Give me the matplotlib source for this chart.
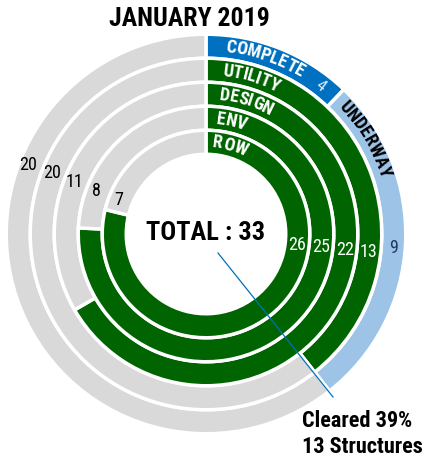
import matplotlib
matplotlib.use('Agg')
import matplotlib.pyplot as plt
import numpy as np
from matplotlib.font_manager import FontProperties

# ==========================
# Data
# ==========================
total = 33
status_labels = ['COMPLETE', 'UNDERWAY']
status_values = [4, 9, 20]            # complete, underway, remaining
ring_labels = ['UTILITY', 'DESIGN', 'ENV', 'ROW']
ring_done = [13, 22, 25, 26]
ring_left = [20, 11, 8, 7]
cleared_pct = 39
cleared_n = 13

FONT = 'Roboto Condensed'
GREEN = '#006400'
GRAY = '#D9D9D9'
BLUE = '#0070C0'
LBLUE = '#9DC3E6'

# figure in pixel units: 1 data unit = 1 px
fig = plt.figure(figsize=(4.29, 4.60), dpi=100)
ax = fig.add_axes([0, 0, 1, 1])
cx, cy = 206, 460 - 235
band = 24
radii = [199.75, 175.75, 151.75, 127.75, 103.75]
wp = dict(width=band, edgecolor='white', linewidth=2.5)

# outer ring: status
ax.pie(status_values, radius=radii[0], center=(cx, cy), startangle=90,
       counterclock=False, colors=[BLUE, LBLUE, GRAY], wedgeprops=wp)
# inner rings: green done / gray left
for i in range(len(ring_labels)):
    ax.pie([ring_done[i], ring_left[i]], radius=radii[i + 1], center=(cx, cy),
           startangle=90, counterclock=False, colors=[GREEN, GRAY], wedgeprops=wp)

ax.set_xlim(0, 429)
ax.set_ylim(0, 460)
ax.set_aspect('equal')
ax.axis('off')

renderer = fig.canvas.get_renderer()


def polar(r, theta):
    # theta in degrees clockwise from 12 o'clock
    t = np.radians(theta)
    return cx + r * np.sin(t), cy + r * np.cos(t)


def arc_text(s, r, theta0, size, color, weight='bold'):
    fp = FontProperties(family=FONT, size=size, weight=weight)
    def w(t):
        if not t:
            return 0.0
        return renderer.get_text_width_height_descent(t, fp, ismath=False)[0]
    first = w(s[0]) / 2
    for i, ch in enumerate(s):
        mid = (w(s[:i]) + w(s[:i + 1])) / 2 - first
        theta = theta0 + np.degrees(mid * 1.02 / r)
        x, y = polar(r, theta)
        ax.text(x, y, ch, fontproperties=fp, color=color, rotation=-theta,
                rotation_mode='anchor', ha='center', va='center')


mids = [r - band / 2 for r in radii]

# curved ring labels
arc_text(status_labels[0], mids[0] + 1, 7.5, 13, 'white')
arc_text(status_labels[1], mids[0] + 1, 47.5, 13, 'black')
for i, lab in enumerate(ring_labels):
    arc_text(lab, mids[i + 1] + 1, 7.5, 13, 'white')

# value labels
x, y = polar(mids[0], 37.5)
ax.text(x, y, str(status_values[0]), rotation=-37.5, rotation_mode='anchor',
        ha='center', va='center', fontsize=12, family=FONT, color='#DDEBF7')
x, y = polar(mids[0], 94)
ax.text(x, y, str(status_values[1]), ha='center', va='center', fontsize=13,
        family=FONT, color='#1F3864')
x, y = polar(mids[0] + 4, 291.5)
ax.text(x, y, str(status_values[2]), ha='center', va='center', fontsize=13,
        family=FONT, color='black')
for i in range(len(ring_labels)):
    x, y = polar(mids[i + 1], 96)
    ax.text(x, y, str(ring_done[i]), ha='center', va='center', fontsize=13,
            family=FONT, color='white')
    x, y = polar(mids[i + 1] + 2, 292)
    ax.text(x, y, str(ring_left[i]), ha='center', va='center', fontsize=13,
            family=FONT, color='black')

# centre and title
ax.text(cx, 460 - 233, f'TOTAL : {total}', ha='center', va='center',
        fontsize=19, fontweight='bold', family=FONT)
ax.text(189, 460 - 19, 'JANUARY 2019', ha='center', va='center',
        fontsize=18.5, fontweight='bold', family=FONT)

# leader line and note
ax.plot([218, 333], [460 - 254, 460 - 398], color=BLUE, lw=0.9)
ax.text(302, 460 - 434, f'Cleared {cleared_pct}%\n{cleared_n} Structures',
        ha='left', va='center', fontsize=16, fontweight='bold', family=FONT,
        linespacing=1.2)

fig.savefig('out.png', dpi=100)
